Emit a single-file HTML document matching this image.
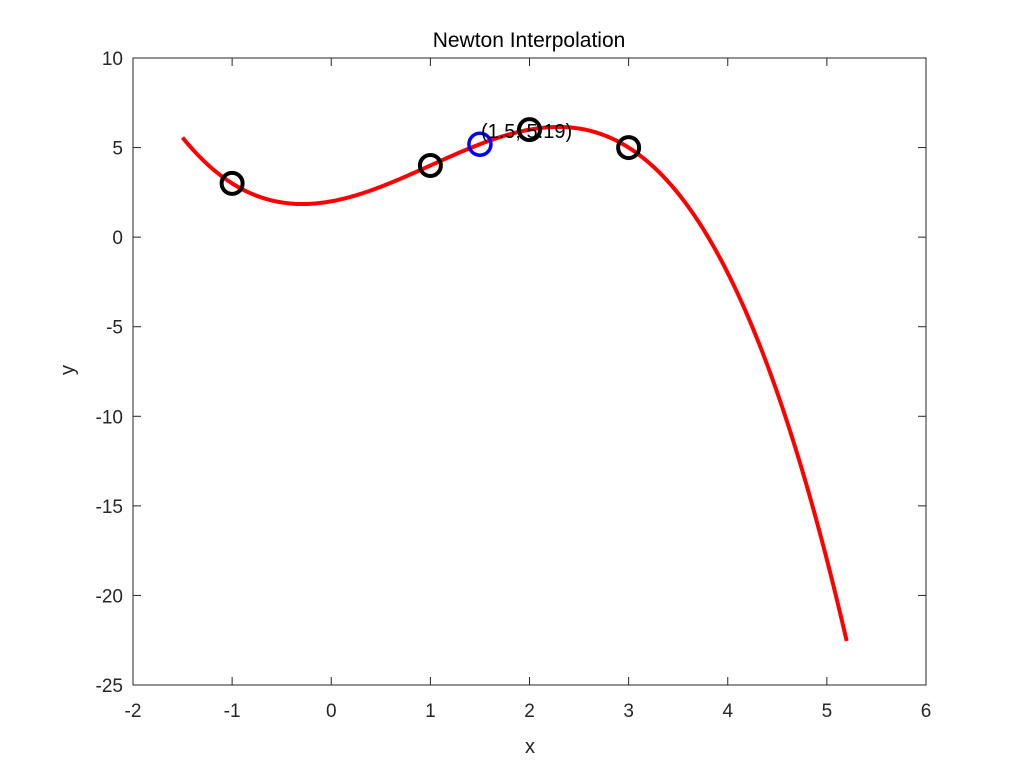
<!DOCTYPE html>
<html><head><meta charset="utf-8"><style>
html,body{margin:0;padding:0;background:#fff;}
svg text{font-family:"Liberation Sans",sans-serif;}
</style></head><body>
<svg id="chart" width="1024" height="768" xmlns="http://www.w3.org/2000/svg"></svg>
<script>
const nodeX = [-1, 1, 2, 3];
const nodeY = [3, 4, 6, 5];
const evalX = [1.5];
const xTicks = [-2, -1, 0, 1, 2, 3, 4, 5, 6];
const yTicks = [10, 5, 0, -5, -10, -15, -20, -25];
const curveRange = [-1.5, 5.2];

const L = 133, R = 926, T = 58, B = 685;
const xMin = -2, xMax = 6, yMin = -25, yMax = 10;
const sx = v => L + (v - xMin) / (xMax - xMin) * (R - L);
const sy = v => B - (v - yMin) / (yMax - yMin) * (B - T);
const NS = "http://www.w3.org/2000/svg";
const svg = document.getElementById('chart');
function mk(tag, attrs, parent) {
  const e = document.createElementNS(NS, tag);
  for (const k in attrs) e.setAttribute(k, attrs[k]);
  (parent || svg).appendChild(e);
  return e;
}
const n = nodeX.length;
const coef = nodeY.slice();
for (let j = 1; j < n; j++)
  for (let i = n - 1; i >= j; i--)
    coef[i] = (coef[i] - coef[i - 1]) / (nodeX[i] - nodeX[i - j]);
function P(x) {
  let r = coef[n - 1];
  for (let i = n - 2; i >= 0; i--) r = r * (x - nodeX[i]) + coef[i];
  return r;
}

const box = mk('rect', {x: L, y: T, width: R - L, height: B - T, fill: '#fff', stroke: '#262626', 'stroke-width': 1});



xTicks.forEach(t => {
  const x = sx(t);
  const g = mk('g', {});
  
  
  mk('line', {x1: x, y1: B, x2: x, y2: B - 8, stroke: '#262626'}, g);
  mk('line', {x1: x, y1: T, x2: x, y2: T + 8, stroke: '#262626'}, g);
  const tx = mk('text', {x: x, y: B + 32, 'text-anchor': 'middle', 'font-size': 19, fill: '#262626'}, g);
  tx.textContent = t;
});
yTicks.forEach(t => {
  const y = sy(t);
  const g = mk('g', {});
  
  
  mk('line', {x1: L, y1: y, x2: L + 8, y2: y, stroke: '#262626'}, g);
  mk('line', {x1: R, y1: y, x2: R - 8, y2: y, stroke: '#262626'}, g);
  const tx = mk('text', {x: L - 10, y: y + 7, 'text-anchor': 'end', 'font-size': 19, fill: '#262626'}, g);
  tx.textContent = t;
});

let d = '';
const steps = 300;
for (let i = 0; i <= steps; i++) {
  const xv = curveRange[0] + (curveRange[1] - curveRange[0]) * i / steps;
  d += (i ? 'L' : 'M') + sx(xv).toFixed(2) + ',' + sy(P(xv)).toFixed(2);
}
const curve = mk('path', {d: d, fill: 'none', stroke: '#ff0000', 'stroke-width': 4});



nodeX.forEach((xv, i) => {
  const c = mk('circle', {cx: sx(xv), cy: sy(nodeY[i]), r: 10.5, fill: 'none', stroke: '#000', 'stroke-width': 4});
  
  
});
evalX.forEach(xv => {
  const yv = P(xv);
  const c = mk('circle', {cx: sx(xv), cy: sy(yv), r: 11, fill: 'none', stroke: '#0000ff', 'stroke-width': 3.5});
  
  
  const t = mk('text', {x: sx(xv) + 1, y: sy(yv) - 6, 'font-size': 20, fill: '#000'});
  
  
  t.textContent = '(' + xv + ', ' + yv.toFixed(2) + ')';
});

const title = mk('text', {x: 529, y: 47, 'text-anchor': 'middle', 'font-size': 21, fill: '#000'});


title.textContent = 'Newton Interpolation';
const xl = mk('text', {x: 530, y: 753, 'text-anchor': 'middle', 'font-size': 20, fill: '#262626'});


xl.textContent = 'x';
const yl = mk('text', {x: 74, y: 370, 'text-anchor': 'middle', 'font-size': 20, fill: '#262626', transform: 'rotate(-90 74 370)'});


yl.textContent = 'y';
</script>
</body></html>
